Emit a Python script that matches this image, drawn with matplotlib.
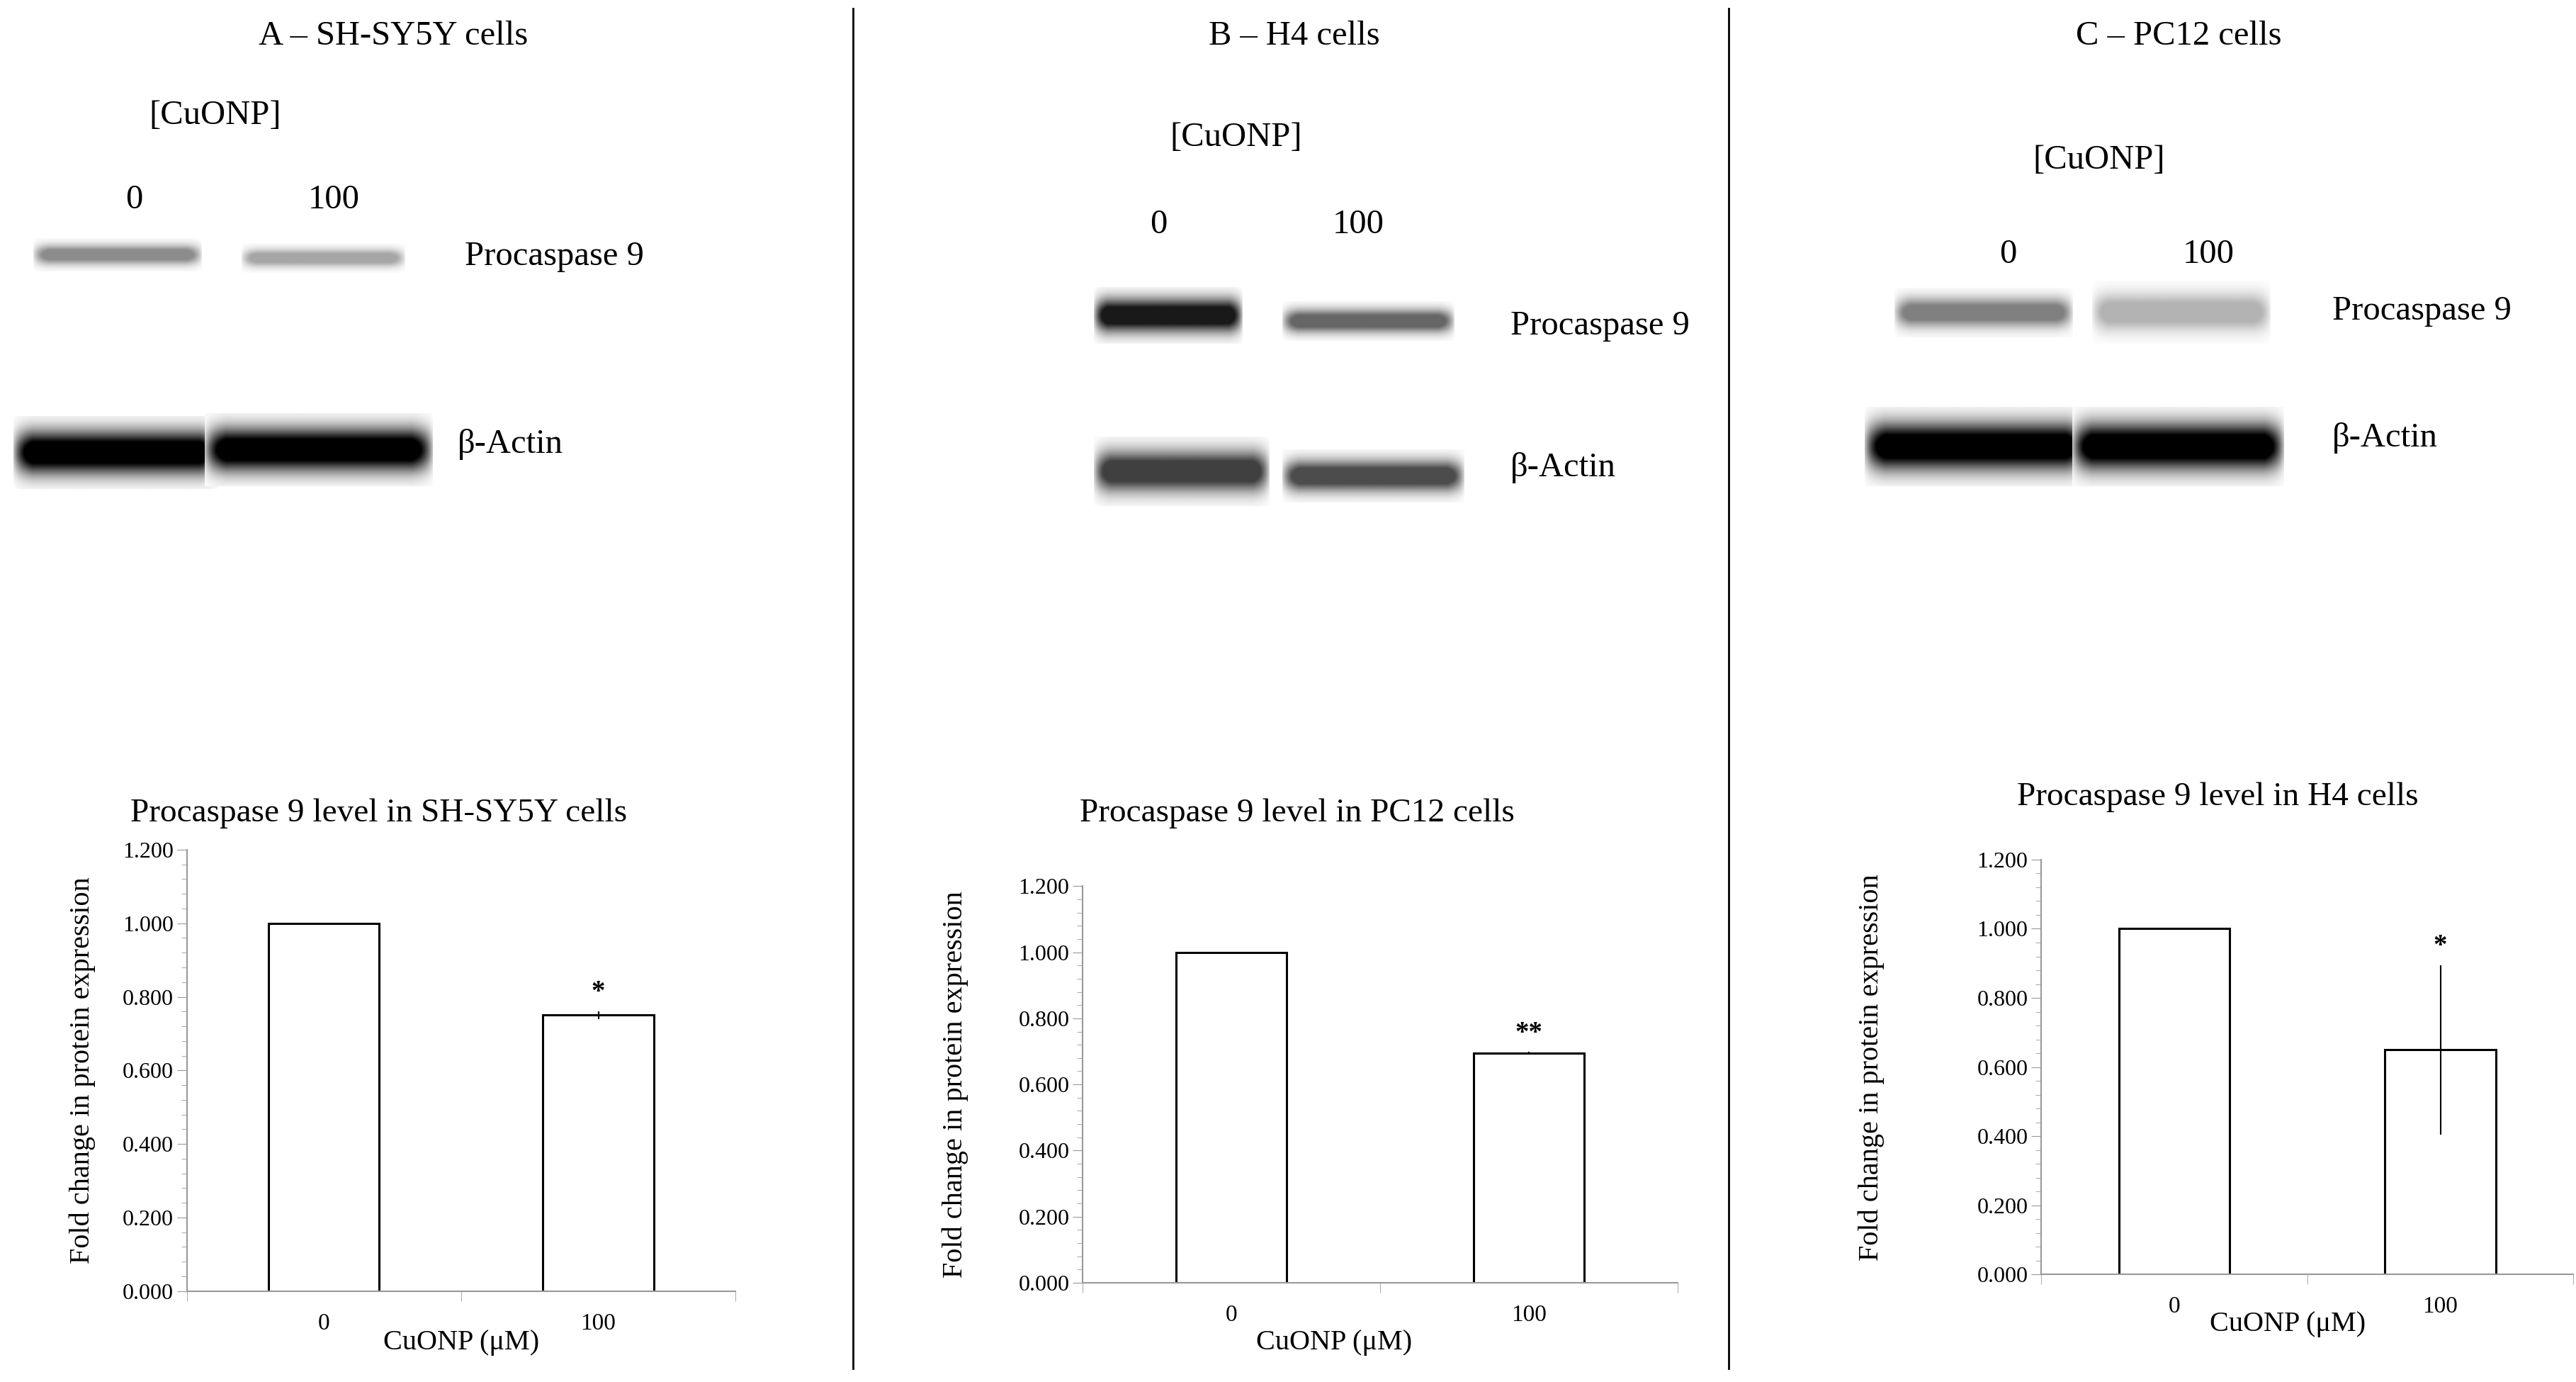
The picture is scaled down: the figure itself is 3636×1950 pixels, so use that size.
import numpy as np
import matplotlib
matplotlib.use("Agg")
import matplotlib.pyplot as plt
from matplotlib.ticker import MultipleLocator, FixedLocator

plt.rcParams['font.family'] = ['Liberation Serif', 'DejaVu Serif']

categories = ["0", "100"]
panel_titles = ["A – SH-SY5Y cells", "B – H4 cells", "C – PC12 cells"]
chart_titles = ["Procaspase 9 level in SH-SY5Y cells",
                "Procaspase 9 level in PC12 cells",
                "Procaspase 9 level in H4 cells"]
values_A = [1.000, 0.750]
errors_A = [0.0, 0.010]
values_B = [1.000, 0.695]
errors_B = [0.0, 0.004]
values_C = [1.000, 0.650]
errors_C = [0.0, 0.245]
stars = ["*", "**", "*"]
yticks = [0.0, 0.2, 0.4, 0.6, 0.8, 1.0, 1.2]

W, H = 1559.0, 836.0
fig = plt.figure(figsize=(36.37, 19.5), dpi=100)
ov = fig.add_axes([0, 0, 1, 1])
ov.set_xlim(0, W); ov.set_ylim(H, 0); ov.axis('off')

def T(x, y, s, ha='center', size=35, **kw):
    ov.text(x, y, s, ha=ha, va='center', fontsize=size, **kw)

def band(x0, x1, y0, y1, dark):
    nx, ny = 200, 60
    yy = np.linspace(-1, 1, ny)[:, None]
    xx = np.linspace(-1, 1, nx)[None, :]
    prof = np.exp(-(yy ** 2) * 3.0) * np.clip(1.2 - xx ** 8, 0, 1)
    img = 1 - dark * np.clip(prof * 1.3, 0, 1)
    ov.imshow(img, cmap='gray', vmin=0, vmax=1, extent=[x0, x1, y1, y0],
              aspect='auto', interpolation='bilinear', zorder=2)

ov.plot([516, 516], [5, 828], color='black', lw=2)
ov.plot([1046, 1046], [5, 828], color='black', lw=2)

# Panel A blot
T(238, 22, panel_titles[0])
T(130, 70, "[CuONP]")
T(81, 121, "0"); T(202, 121, "100")
band(20, 122, 144, 164, 0.45)
band(146, 245, 147, 165, 0.35)
T(281, 155, "Procaspase 9", ha='left')
band(8, 132, 252, 296, 1.0)
band(124, 262, 250, 294, 1.0)
T(277, 269, "β-Actin", ha='left')

# Panel B blot
T(783, 22, panel_titles[1])
T(748, 83, "[CuONP]")
T(701, 136, "0"); T(822, 136, "100")
band(662, 752, 174, 208, 0.9)
band(776, 880, 182, 206, 0.6)
T(914, 197, "Procaspase 9", ha='left')
band(662, 768, 264, 306, 0.75)
band(776, 886, 272, 304, 0.7)
T(914, 283, "β-Actin", ha='left')

# Panel C blot
T(1318, 22, panel_titles[2])
T(1270, 97, "[CuONP]")
T(1215, 154, "0"); T(1336, 154, "100")
band(1146, 1254, 174, 204, 0.5)
band(1266, 1374, 170, 208, 0.3)
T(1411, 188, "Procaspase 9", ha='left')
band(1128, 1262, 246, 294, 1.0)
band(1254, 1382, 246, 294, 1.0)
T(1411, 265, "β-Actin", ha='left')

def chart(rect_px, vals, errs, star, title, title_xy, ylab_x, xlab_xy, unit):
    x0, x1, ytop, ybot = rect_px
    ax = fig.add_axes([x0 / W, 1 - ybot / H, (x1 - x0) / W, (ybot - ytop) / H])
    pos = np.arange(len(categories))
    ax.bar(pos, vals, width=67 / unit, color='white', edgecolor='black', lw=2.2, zorder=2)
    ax.errorbar(pos[1:], vals[1:], yerr=errs[1:], fmt='none', ecolor='black',
                elinewidth=1.5, capsize=0, zorder=3)
    ax.text(pos[1], vals[1] + errs[1] + 0.015, star, ha='center', va='bottom',
            fontsize=28, fontweight='bold')
    ax.set_xlim(-0.5, 1.5)
    ax.set_ylim(0, 1.2)
    ax.set_yticks(yticks)
    ax.set_yticklabels([f"{v:.3f}" for v in yticks], fontsize=23)
    ax.yaxis.set_minor_locator(MultipleLocator(0.04))
    ax.set_xticks(pos)
    ax.set_xticklabels(categories, fontsize=24)
    ax.xaxis.set_minor_locator(FixedLocator([-0.5, 0.5, 1.5]))
    ax.tick_params(axis='x', which='major', length=0, pad=22)
    ax.tick_params(axis='x', which='minor', length=10, color='#999999', direction='out')
    ax.tick_params(axis='y', which='both', color='#999999', direction='out')
    ax.tick_params(axis='y', which='major', length=10)
    ax.tick_params(axis='y', which='minor', length=6)
    for s in ['top', 'right']:
        ax.spines[s].set_visible(False)
    for s in ['left', 'bottom']:
        ax.spines[s].set_color('#999999'); ax.spines[s].set_linewidth(1.5)
    ax.patch.set_alpha(0)
    T(title_xy[0], title_xy[1], title, size=34)
    ov.text(ylab_x, (ytop + ybot) / 2, "Fold change in protein expression",
            rotation=90, ha='center', va='center', fontsize=29)
    T(xlab_xy[0], xlab_xy[1], "CuONP (μM)", size=29)

chart((113, 445, 514, 781), values_A, errors_A, stars[0], chart_titles[0], (229, 492), 50, (279, 812), 166)
chart((655, 1015, 536, 776), values_B, errors_B, stars[1], chart_titles[1], (785, 492), 578, (807, 812), 180)
chart((1235, 1557, 520, 771), values_C, errors_C, stars[2], chart_titles[2], (1342, 482), 1132, (1384, 801), 161)

fig.savefig("out.png", dpi=100, facecolor='white')
